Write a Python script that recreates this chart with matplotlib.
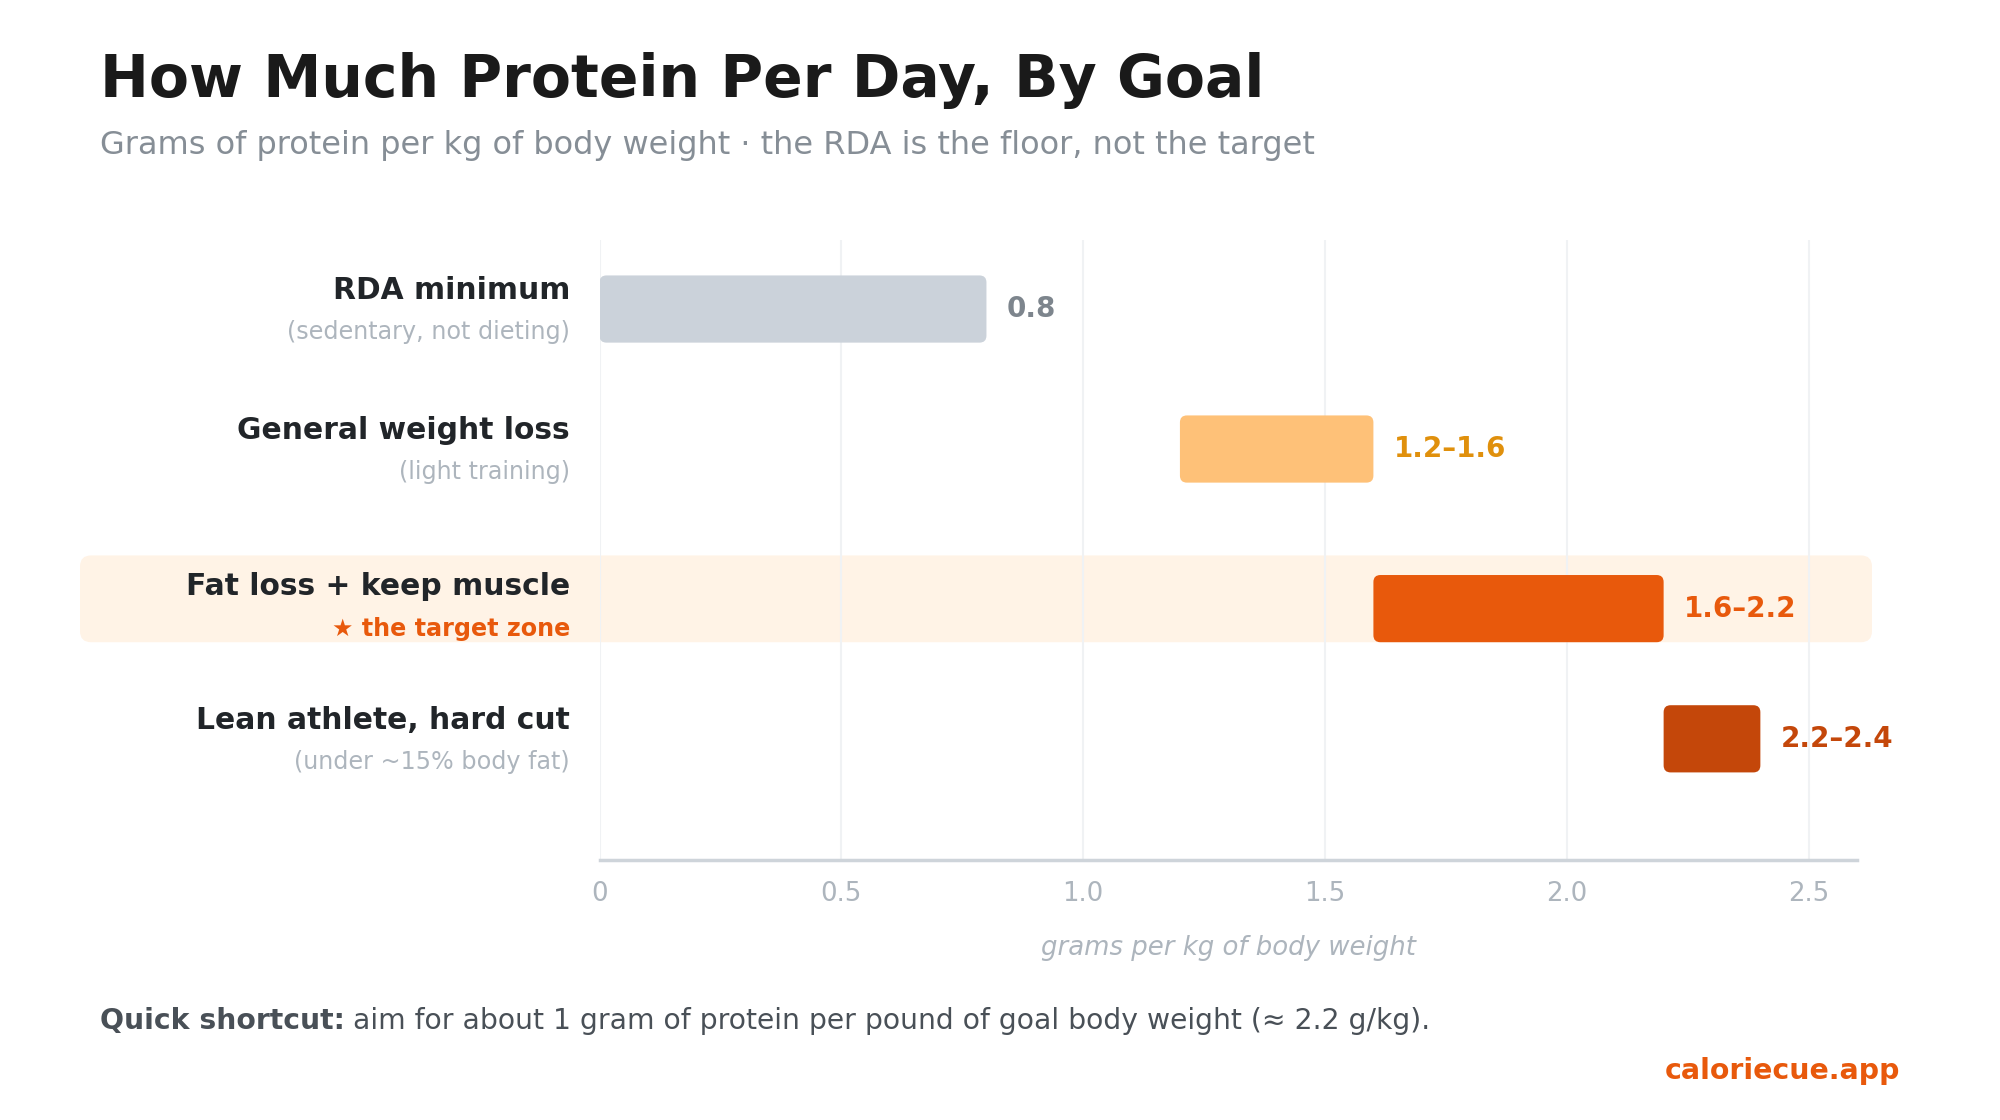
import matplotlib.pyplot as plt
from matplotlib.patches import FancyBboxPatch
from matplotlib.transforms import blended_transform_factory

# data
goals = ["RDA minimum", "General weight loss", "Fat loss + keep muscle", "Lean athlete, hard cut"]
notes = ["(sedentary, not dieting)", "(light training)", "\u2605 the target zone", "(under ~15% body fat)"]
lows = [0.0, 1.2, 1.6, 2.2]
highs = [0.8, 1.6, 2.2, 2.4]
ticks = [0, 0.5, 1.0, 1.5, 2.0, 2.5]
tick_labels = ["0", "0.5", "1.0", "1.5", "2.0", "2.5"]
target_idx = 2

# styles / layout
bar_colors = ["#cbd2da", "#fec178", "#e8590c", "#c4470a"]
value_colors = ["#7d858d", "#e0900c", "#e8590c", "#c4470a"]
row_y = [0, 1.0, 2.14, 3.07]
bar_h = 0.48
DARK = "#212529"
MUTED = "#adb5bd"

plt.rcParams["font.family"] = ["DejaVu Sans"]

fig = plt.figure(figsize=(20, 11.2), dpi=100)
ax = fig.add_axes([0.29975, 0.2321, 0.6288, 0.5536])
ax.set_xlim(0, 2.6)
ax.set_ylim(3.936, -0.493)

# pixels per unit, for round corners that stay round
fig.canvas.draw()
px_x = ax.transData.transform((1, 0))[0] - ax.transData.transform((0, 0))[0]
px_y = abs(ax.transData.transform((0, 1))[1] - ax.transData.transform((0, 0))[1])

# highlight band for the target row
band_tr = blended_transform_factory(fig.transFigure, ax.transData)
ty = row_y[target_idx]
band = FancyBboxPatch((0.04, ty - 0.38), 0.896, 0.62,
                      boxstyle="round,pad=0,rounding_size=0.0055",
                      mutation_aspect=(2000 / px_y),
                      transform=band_tr, facecolor="#fff3e6", edgecolor="none",
                      clip_on=False, zorder=0)
ax.add_patch(band)

for x in ticks:
    ax.axvline(x, color="#f0f2f4", lw=1.5, zorder=0.5)

r = 7 / px_x
lab_tr = blended_transform_factory(ax.transAxes, ax.transData)
for i in range(len(goals)):
    y = row_y[i]
    box = FancyBboxPatch((lows[i], y - bar_h / 2), highs[i] - lows[i], bar_h,
                         boxstyle=f"round,pad=0,rounding_size={r}",
                         mutation_aspect=px_x / px_y,
                         facecolor=bar_colors[i], edgecolor="none", zorder=2)
    ax.add_patch(box)
    if lows[i] == 0:
        val = f"{highs[i]}"
    else:
        val = f"{lows[i]}\u2013{highs[i]}"
    ax.annotate(val, xy=(highs[i], y), xytext=(14.5, 0), textcoords="offset points",
                ha="left", va="center", fontsize=20, fontweight="bold",
                color=value_colors[i], annotation_clip=False)

    if i == target_idx:
        d_main, d_sub, sub_col, sub_w = -0.095, 0.195, "#e8590c", "bold"
    else:
        d_main, d_sub, sub_col, sub_w = -0.07, 0.215, MUTED, "normal"
    ax.text(-0.0235, y + d_main, goals[i], transform=lab_tr, ha="right", va="baseline",
            fontsize=21.4, fontweight="bold", color=DARK)
    ax.text(-0.0235, y + d_sub, notes[i], transform=lab_tr, ha="right", va="baseline",
            fontsize=17.2, fontweight=sub_w, color=sub_col)

for s in ["top", "right", "left"]:
    ax.spines[s].set_visible(False)
ax.spines["bottom"].set_color("#ced4da")
ax.spines["bottom"].set_linewidth(2.5)
ax.set_yticks([])
ax.set_xticks(ticks)
ax.set_xticklabels(tick_labels)
ax.tick_params(axis="x", length=0, pad=15, labelsize=18.7, labelcolor=MUTED)
ax.set_xlabel("grams per kg of body weight", fontsize=18.7, style="italic",
              color=MUTED, labelpad=20)

fig.text(0.05, 0.9134, "How Much Protein Per Day, By Goal", fontsize=42,
         fontweight="bold", color="#1a1a1a", va="baseline")
fig.text(0.05, 0.8625, "Grams of protein per kg of body weight \u00b7 the RDA is the floor, not the target",
         fontsize=23, color="#868e96", va="baseline")

t1 = fig.text(0.05, 0.081, "Quick shortcut:", fontsize=20.3, fontweight="bold",
              color="#495057", va="baseline")
ax.annotate("aim for about 1 gram of protein per pound of goal body weight (\u2248 2.2 g/kg).",
            xy=(1, 0), xycoords=t1, xytext=(6, 0), textcoords="offset points",
            ha="left", va="bottom", fontsize=20.3, color="#495057", annotation_clip=False)
fig.text(0.95, 0.0366, "caloriecue.app", fontsize=20.4, fontweight="bold",
         color="#e8590c", ha="right", va="baseline")

fig.savefig("out.png", dpi=100, facecolor="white")
